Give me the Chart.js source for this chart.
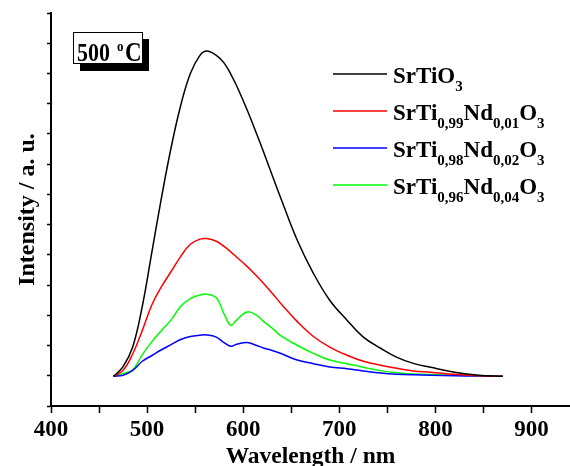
<!DOCTYPE html>
<html>
<head>
<meta charset="utf-8">
<script src="https://cdn.jsdelivr.net/npm/chart.js@4/dist/chart.umd.min.js"></script>
<style>
body { margin: 0; background: #fff; }
</style>
</head>
<body>
<canvas id="myChart" width="570" height="466"></canvas>
<script>
// wavelength grid (nm) shared by all four spectra
var wavelength = [465, 475, 485, 495, 505, 515, 525, 535, 545, 555, 562, 572, 580, 587, 593, 604,
                  614, 621, 631, 640, 656, 673, 690, 708, 725, 743, 760, 777, 795, 820, 845, 870];

var srtio3 = [0.98, 1.3, 1.95, 3.3, 5.1, 6.9, 8.55, 9.95, 11.0, 11.6, 11.74, 11.6, 11.35, 10.98, 10.6, 9.8,
              9.0, 8.42, 7.56, 6.8, 5.5, 4.39, 3.5, 2.84, 2.28, 1.91, 1.61, 1.41, 1.28, 1.12, 1.02, 0.98];
var nd001 = [0.98, 1.18, 1.72, 2.5, 3.35, 3.95, 4.45, 4.95, 5.35, 5.52, 5.54, 5.45, 5.28, 5.1, 4.93, 4.62,
             4.3, 4.06, 3.7, 3.36, 2.8, 2.3, 1.95, 1.68, 1.48, 1.35, 1.25, 1.16, 1.12, 1.05, 1.0, 0.98];
var nd002 = [0.98, 1.02, 1.18, 1.48, 1.67, 1.86, 2.03, 2.2, 2.3, 2.34, 2.35, 2.28, 2.1, 1.98, 2.04, 2.1,
             2.0, 1.92, 1.83, 1.73, 1.52, 1.4, 1.29, 1.23, 1.16, 1.09, 1.05, 1.03, 1.02, 1.0, 0.99, 0.98];
var nd004 = [0.98, 1.08, 1.2, 1.7, 2.13, 2.5, 2.85, 3.3, 3.55, 3.67, 3.7, 3.58, 3.05, 2.67, 2.84, 3.11,
             3.0, 2.8, 2.55, 2.3, 2.01, 1.74, 1.52, 1.4, 1.28, 1.17, 1.1, 1.06, 1.04, 1.02, 1.0, 0.98];

// legend names, subscripts written as _{...}
var names = ['SrTiO_{3}', 'SrTi_{0,99}Nd_{0,01}O_{3}', 'SrTi_{0,98}Nd_{0,02}O_{3}', 'SrTi_{0,96}Nd_{0,04}O_{3}'];
var colors = ['#000000', '#ff0000', '#0000ff', '#00ff00'];
var series = [srtio3, nd001, nd002, nd004];

var xTicks = [400, 500, 600, 700, 800, 900];
var tempLabel = '500';

var FONT = "'Liberation Serif', 'Times New Roman', serif";

function pts(vals) {
    var out = [];
    for (var i = 0; i < wavelength.length; i++) {
        out.push({x: wavelength[i], y: vals[i]});
    }
    return out;
}

function splitSub(s) {
    // returns [[text, isSub], ...]
    var parts = [];
    var re = /_\{([^}]*)\}/g, last = 0, m;
    while ((m = re.exec(s)) !== null) {
        if (m.index > last) parts.push([s.substring(last, m.index), false]);
        parts.push([m[1], true]);
        last = re.lastIndex;
    }
    if (last < s.length) parts.push([s.substring(last), false]);
    return parts;
}

// legend + temperature box
var extras = {
    id: 'extras',
    afterDraw: function(chart) {
        var ctx = chart.ctx;
        ctx.save();

        // legend
        for (var i = 0; i < names.length; i++) {
            var ly = 74 + i * 37;
            ctx.strokeStyle = colors[i];
            ctx.lineWidth = 1.5;
            ctx.beginPath();
            ctx.moveTo(333, ly);
            ctx.lineTo(387, ly);
            ctx.stroke();

            var x = 393;
            var parts = splitSub(names[i]);
            ctx.fillStyle = '#000';
            ctx.textBaseline = 'alphabetic';
            ctx.textAlign = 'left';
            for (var j = 0; j < parts.length; j++) {
                if (parts[j][1]) {
                    ctx.font = 'bold 15px ' + FONT;
                    ctx.fillText(parts[j][0], x, ly + 17);
                } else {
                    ctx.font = 'bold 23px ' + FONT;
                    ctx.fillText(parts[j][0], x, ly + 9);
                }
                x += ctx.measureText(parts[j][0]).width;
            }
        }

        // "500 oC" box with shadow
        ctx.fillStyle = '#000';
        ctx.fillRect(80, 39, 69, 32);
        ctx.fillStyle = '#fff';
        ctx.fillRect(74, 32, 69, 32);
        ctx.strokeStyle = '#000';
        ctx.lineWidth = 1;
        ctx.strokeRect(73.5, 32.5, 69, 31);
        ctx.fillStyle = '#000';
        ctx.translate(0, 61);
        ctx.scale(1, 1.15);
        ctx.font = 'bold 22px ' + FONT;
        ctx.fillText(tempLabel, 77, 0);
        ctx.font = 'bold 13px ' + FONT;
        ctx.fillText('o', 117, -9);
        ctx.font = 'bold 23px ' + FONT;
        ctx.fillText('C', 125, 0);

        ctx.restore();
    }
};

var datasets = [];
for (var i = 0; i < series.length; i++) {
    datasets.push({
        label: names[i],
        data: pts(series[i]),
        borderColor: colors[i],
        borderWidth: 1.5,
        pointRadius: 0,
        fill: false,
        tension: 0.4
    });
}

var chart = new Chart(document.getElementById('myChart'), {
    type: 'line',
    data: { datasets: datasets },
    plugins: [extras],
    options: {
        responsive: false,
        animation: false,
        devicePixelRatio: 1,
        layout: { padding: { top: 13, right: 0, left: 0, bottom: 0 } },
        plugins: { legend: { display: false }, tooltip: { enabled: false } },
        scales: {
            x: {
                type: 'linear',
                min: 400,
                max: 940,
                afterFit: function(s) { s.height = 60; },
                border: { color: '#000', width: 2 },
                grid: { drawOnChartArea: false, color: '#000', tickLength: 7, tickWidth: 1.5 },
                ticks: {
                    stepSize: 50,
                    includeBounds: false,
                    maxRotation: 0,
                    autoSkip: false,
                    padding: 3,
                    color: '#000',
                    font: { family: FONT, size: 23, weight: 'bold' },
                    callback: function(v) { return xTicks.indexOf(v) >= 0 ? String(v) : ''; }
                },
                title: {
                    display: true,
                    text: 'Wavelength / nm',
                    color: '#000',
                    padding: { top: 0, bottom: -3 },
                    font: { family: FONT, size: 23.5, weight: 'bold', lineHeight: 1 }
                }
            },
            y: {
                min: 0,
                max: 13,
                afterFit: function(s) { s.width = 51; },
                border: { color: '#000', width: 2 },
                grid: { drawOnChartArea: false, color: '#000', tickLength: 4, tickWidth: 1.5 },
                ticks: { stepSize: 1, display: false },
                title: {
                    display: true,
                    text: 'Intensity / a. u.',
                    color: '#000',
                    padding: { top: 16, bottom: 0 },
                    font: { family: FONT, size: 24, weight: 'bold', lineHeight: 1 }
                }
            }
        }
    }
});
</script>
</body>
</html>
